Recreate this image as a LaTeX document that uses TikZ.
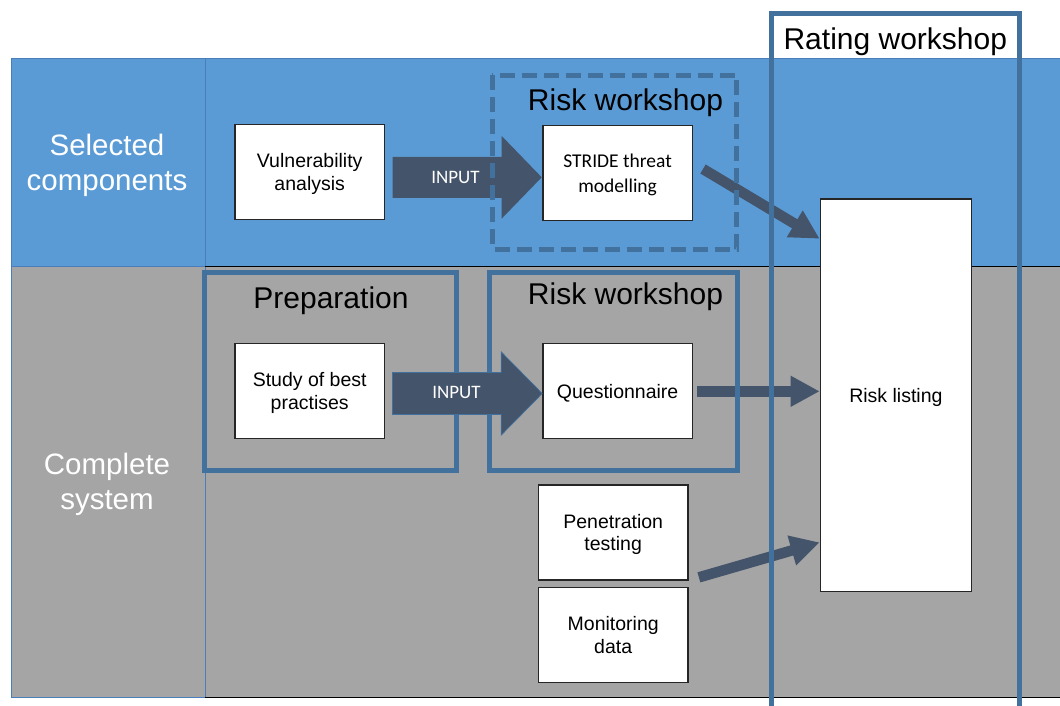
\documentclass[tikz,border=0pt]{standalone}
\usepackage{fontspec}
\setmainfont{Liberation Sans}
\newfontfamily\calibri{Carlito}
\usetikzlibrary{arrows.meta,calc}
\definecolor{bandblue}{HTML}{5B9BD5}
\definecolor{bandgray}{HTML}{A5A5A5}
\definecolor{framecol}{HTML}{41719C}
\definecolor{lanebord}{HTML}{4A7EBB}
\definecolor{arrowcol}{HTML}{44546A}
\definecolor{boxline}{HTML}{262626}
\begin{document}
\begin{tikzpicture}[x=1pt,y=-1pt,
  box/.style={draw=boxline, line width=1.3pt, fill=white, inner sep=0pt, align=center,
    text depth=0pt,
    minimum width=149.5pt, minimum height=95pt, font=\fontsize{19.5}{22.8}\selectfont},
  calbox/.style={box, font=\calibri\fontsize{19.5}{24.5}\selectfont},
  frame/.style={draw=framecol, line width=5pt},
  dashframe/.style={frame, dash pattern=on 15pt off 7pt},
  heading/.style={font=\fontsize{30}{35}\selectfont, inner sep=0pt, anchor=base},
  fatline/.style={draw=arrowcol, line width=10.5pt, -{Triangle[length=29pt,width=29pt]}},
  blockarrow/.style={fill=arrowcol},
  inputlabel/.style={text=white, font=\calibri\fontsize{19}{22}\selectfont, inner sep=0pt},
  lane/.style={font=\fontsize{29.5}{35}\selectfont, text=white, align=center, inner sep=0pt}
]
\useasboundingbox (0,0) rectangle (1060,706);
\clip (0,0) rectangle (1060,706);

% swim lanes
\fill[bandblue] (11,59) rectangle (1065,266);
\fill[bandgray] (11,266) rectangle (1065,697);
\draw[lanebord, line width=1pt] (11,59) -- (1065,59);
\draw[lanebord, line width=1pt] (11,59) rectangle (205,697);
\draw[lanebord, line width=1pt] (11,266) -- (205,266);
\draw[black, line width=1pt] (205,266) -- (1065,266);
\draw[black, line width=1pt] (205,697) -- (1065,697);

\node[lane] (sel) at (107,165.5) {Selected\\components};
\node[lane] (cmp) at (107,484) {Complete\\system};

% boxes
\node[box] (vuln) at (309.7,171.8) {Vulnerability\\analysis};
\node[calbox] (stride) at (617.6,173) {STRIDE threat\\modelling};
\node[box] (study) at (309.7,391) {Study of best\\practises};
\node[box] (quest) at (617.6,391) {Questionnaire};
\node[box] (pen) at (613.2,532.5) {Penetration\\testing};
\node[box] (mon) at (613.2,635.2) {Monitoring\\data};
\node[box, minimum width=151.2pt, minimum height=392.7pt] (rl) at (895.9,395.4) {Risk listing};

% frames of the lower lane (under the INPUT arrow)
\draw[frame] (204.3,272.3) rectangle (456.7,470);
\draw[frame] (489,272.3) rectangle (737,470);

% block arrows (INPUT)
\coordinate (t1) at ($(stride.west)+(-0.5,4.3)$);
\coordinate (s1a) at ($(vuln.east)+(7.4,0)$);
\coordinate (s1) at (s1a |- t1);
\fill[blockarrow] ($(s1)+(0,-20.5)$) -- ($(t1)+(-40,-20.5)$) -- ($(t1)+(-40,-41.3)$) -- (t1)
  -- ($(t1)+(-40,41.3)$) -- ($(t1)+(-40,20.5)$) -- ($(s1)+(0,20.5)$) -- cycle;
\node[inputlabel] (in1) at ($(s1)+(63,0)$) {INPUT};

\coordinate (t2) at ($(quest.west)+(0,2.5)$);
\coordinate (s2a) at ($(study.east)+(7.4,0)$);
\coordinate (s2) at (s2a |- t2);
\fill[blockarrow, draw=framecol, line width=0.7pt] ($(s2)+(0,-21)$) -- ($(t2)+(-41,-21)$) -- ($(t2)+(-41,-41.6)$) -- (t2)
  -- ($(t2)+(-41,41.6)$) -- ($(t2)+(-41,21)$) -- ($(s2)+(0,21)$) -- cycle;
\node[inputlabel] (in2) at ($(s2)+(64,-1)$) {INPUT};

% fat arrows into the risk listing
\coordinate (qs) at ($(quest.east)+(4,0.3)$);
\coordinate (qe) at (qs -| rl.west);
\draw[fatline] ($(stride.east)+(10,-4)$) -- ($(rl.north west)+(0,40.3)$);
\draw[fatline] (qs) -- (qe);
\draw[fatline] ($(pen.south east)+(10.3,-3.3)$) -- ($(rl.south west)+(0,-50)$);

% frames drawn over the arrows
\draw[framecol, line width=5pt] (737,375) -- (737,410);
\draw[dashframe] (492.3,75.3) rectangle (736.7,249);
\draw[frame] (771,715) -- (771,14) -- (1019.3,14) -- (1019.3,715);

% headings
\node[heading] (hrate) at (895.3,49.3) {Rating workshop};
\node[heading] (hrisk1) at (625.5,111) {Risk workshop};
\node[heading] (hrisk2) at (625.5,304.3) {Risk workshop};
\node[heading] (hprep) at (331,308.3) {Preparation};
\end{tikzpicture}
\end{document}
